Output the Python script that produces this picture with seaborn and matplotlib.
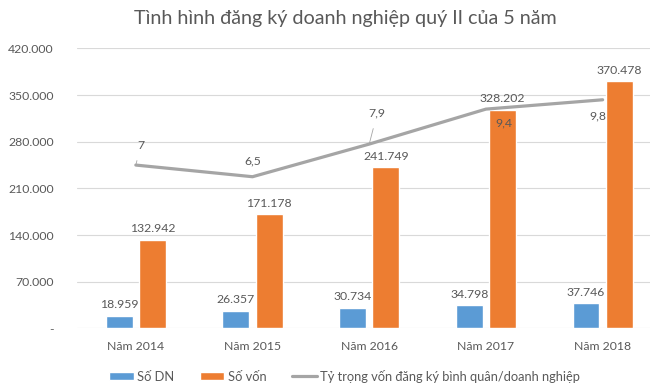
import numpy as np
import pandas as pd
import matplotlib
matplotlib.use("Agg")
import matplotlib.pyplot as plt
from matplotlib.patches import Patch
from matplotlib.lines import Line2D
import seaborn as sns

# ---- data ----
years = ["Năm 2014", "Năm 2015", "Năm 2016", "Năm 2017", "Năm 2018"]
so_dn = [18959, 26357, 30734, 34798, 37746]
so_von = [132942, 171178, 241749, 328202, 370478]
ty_trong = [7, 6.5, 7.9, 9.4, 9.8]
series_names = ["Số DN", "Số vốn"]
line_name = "Tỷ trọng vốn đăng ký bình quân/doanh nghiệp"
title = "Tình hình đăng ký doanh nghiệp quý II của 5 năm"

BLUE = "#5B9BD5"
ORANGE = "#ED7D31"
GRAY = "#A5A5A5"
TXT = "#595959"
GRID = "#D9D9D9"

sns.set_theme(style="white")
plt.rcParams["font.family"] = ["Lato", "DejaVu Sans"]

def vn_int(v):
    if v == 0:
        return "-"
    return f"{v:,.0f}".replace(",", ".")

def vn_dec(v):
    return (f"{v:g}").replace(".", ",")

df = pd.DataFrame({
    "Năm": years * 2,
    "Giá trị": so_dn + so_von,
    "Chỉ tiêu": [series_names[0]] * len(years) + [series_names[1]] * len(years),
})

fig = plt.figure(figsize=(6.5, 3.91), dpi=100)
ax = fig.add_axes([0.1192, 0.1604, 0.8977, 0.7156])

sns.barplot(data=df, x="Năm", y="Giá trị", hue="Chỉ tiêu",
            palette=[BLUE, ORANGE], width=0.57, gap=0.19,
            saturation=1, legend=False, ax=ax)

ax.set_ylim(0, 420000)
yt = np.arange(0, 420001, 70000)
ax.set_yticks(yt)
ax.set_yticklabels([vn_int(v) for v in yt])
ax.grid(axis="y", color=GRID, lw=0.8)
ax.set_axisbelow(True)
for s in ax.spines.values():
    s.set_visible(False)
ax.tick_params(axis="y", length=0, pad=17, labelsize=8.8, labelcolor=TXT)
ax.tick_params(axis="x", length=0, pad=9, labelsize=8.8, labelcolor=TXT)
ax.set_xlabel("")
ax.set_ylabel("")

for cont, vals in zip(ax.containers, [so_dn, so_von]):
    ax.bar_label(cont, labels=[vn_int(v) for v in vals], padding=4,
                 fontsize=8.8, color=TXT)

ax2 = ax.twinx()
sns.lineplot(x=np.arange(len(years)), y=ty_trong, ax=ax2, color=GRAY, lw=2.3)
ax2.set_ylim(0, 12)
ax2.set_yticks([])
for s in ax2.spines.values():
    s.set_visible(False)
ax.set_xlim(-0.5, len(years) - 0.5)

offsets = [(5, 20), (0, 16), (8, 31), (18, -14), (-5, -16)]
leaders = [True, True, True, False, False]
for i, (v, off, lead) in enumerate(zip(ty_trong, offsets, leaders)):
    ap = dict(arrowstyle="-", color=GRAY, lw=0.6, shrinkA=5, shrinkB=1) if lead else None
    ax2.annotate(vn_dec(v), xy=(i, v), xytext=off, textcoords="offset pixels",
                 ha="center", va="center", fontsize=8.8, color=TXT,
                 arrowprops=ap)

fig.text(0.531, 0.953, title, ha="center", va="center", fontsize=14.2, color=TXT)

handles = [Patch(facecolor=BLUE), Patch(facecolor=ORANGE),
           Line2D([0], [0], color=GRAY, lw=2.3)]
fig.legend(handles, series_names + [line_name], loc="center",
           bbox_to_anchor=(0.53, 0.038), ncol=3, frameon=False,
           fontsize=9.3, labelcolor=TXT, handlelength=1.9, handleheight=0.55,
           handletextpad=0.25, columnspacing=2.0)

fig.savefig("out.png", dpi=100)
